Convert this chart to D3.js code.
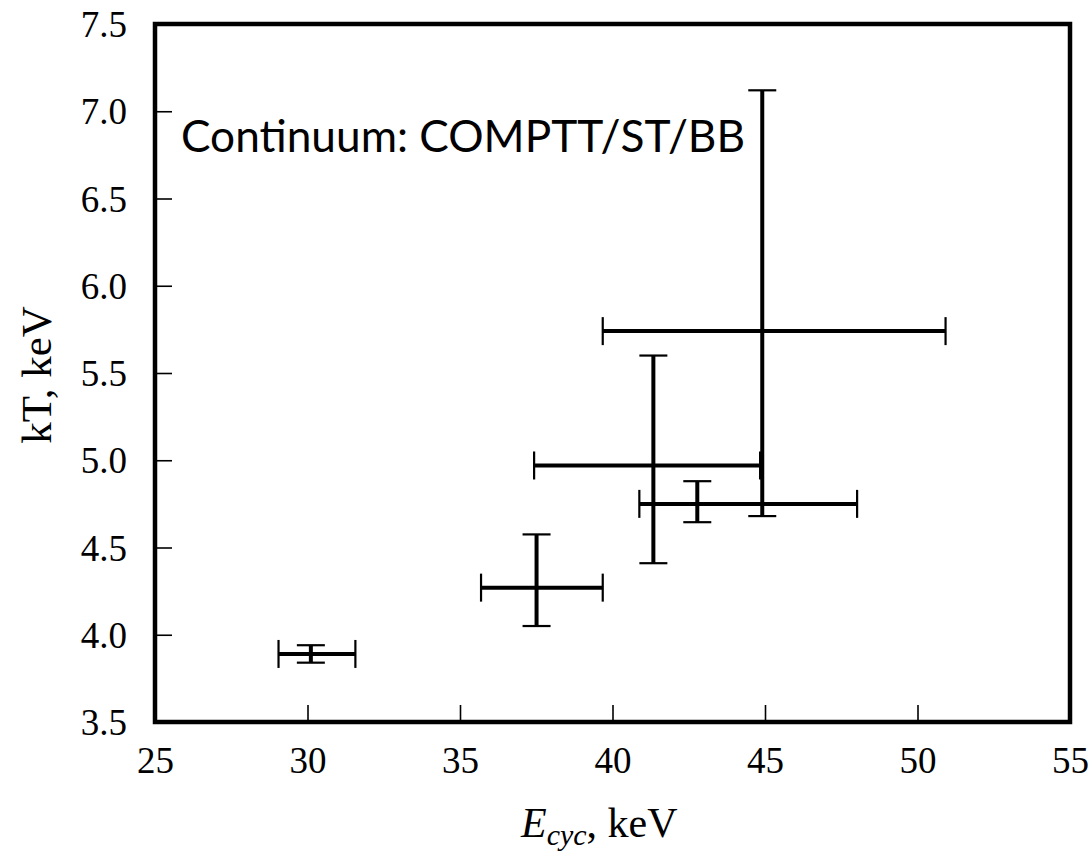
<!DOCTYPE html>
<html><head><meta charset="utf-8">
<script src="https://cdn.jsdelivr.net/npm/d3@7"></script>
<style>body{margin:0;background:#fff}</style>
</head><body>
<svg id="chart" width="1091" height="853"></svg>
<script>
// Data
const ecyc     = [30.11, 37.51, 41.34, 42.78, 44.91];
const ecycLo   = [29.05, 35.69, 37.43, 40.88, 39.68];
const ecycHi   = [31.57, 39.68, 44.84, 48.02, 50.92];
const kT       = [3.89, 4.27, 4.97, 4.75, 5.74];
const kTLo     = [3.84, 4.05, 4.41, 4.645, 4.68];
const kTHi     = [3.94, 4.575, 5.60, 4.88, 7.12];
const xTicks   = [25, 30, 35, 40, 45, 50, 55];
const yTicks   = [3.5, 4.0, 4.5, 5.0, 5.5, 6.0, 6.5, 7.0, 7.5];
const annotation = "Continuum: COMPTT/ST/BB";

const svg = d3.select("#chart");
const L = 155, R = 1070, T = 24, B = 722;
const x = d3.scaleLinear().domain([25, 55]).range([L, R]);
const y = d3.scaleLinear().domain([3.5, 7.5]).range([B, T]);

// ticks (inward) on left and bottom
const gx = svg.append("g").attr("transform", `translate(0,${B})`)
  .call(d3.axisBottom(x).tickValues(xTicks).tickSize(-17).tickPadding(25).tickFormat(d3.format("d")));
const gy = svg.append("g").attr("transform", `translate(${L},0)`)
  .call(d3.axisLeft(y).tickValues(yTicks).tickSize(-17).tickPadding(28).tickFormat(d3.format(".1f")));
[gx, gy].forEach(g => {
  g.select(".domain").remove();
  g.selectAll(".tick line").attr("stroke", "#000").attr("stroke-width", 1.6);
  g.selectAll(".tick text").attr("font-family", "'Liberation Serif', 'Times New Roman', serif")
    .attr("font-size", 37).attr("fill", "#000");
});
gx.selectAll(".tick text").attr("dy", "0.71em");
gy.selectAll(".tick text").attr("dy", "0.34em");
// hide ticks at frame edges
gx.selectAll(".tick line").filter(d => d === 25 || d === 55).remove();
gy.selectAll(".tick line").filter(d => d === 3.5 || d === 7.5).remove();

// frame
svg.append("rect").attr("x", L).attr("y", T).attr("width", R - L).attr("height", B - T)
  .attr("fill", "none").attr("stroke", "#000").attr("stroke-width", 4.5);

// error bars
const pts = ecyc.map((d, i) => ({x: d, xl: ecycLo[i], xh: ecycHi[i], y: kT[i], yl: kTLo[i], yh: kTHi[i]}));
const g = svg.append("g").attr("stroke", "#000");
const cap = 14;
pts.forEach(p => {
  g.append("line").attr("x1", x(p.xl)).attr("x2", x(p.xh)).attr("y1", y(p.y)).attr("y2", y(p.y)).attr("stroke-width", 4);
  g.append("line").attr("x1", x(p.x)).attr("x2", x(p.x)).attr("y1", y(p.yl)).attr("y2", y(p.yh)).attr("stroke-width", 4);
  [p.xl, p.xh].forEach(v => g.append("line").attr("x1", x(v)).attr("x2", x(v))
    .attr("y1", y(p.y) - cap).attr("y2", y(p.y) + cap).attr("stroke-width", 2.2));
  [p.yl, p.yh].forEach(v => g.append("line").attr("x1", x(p.x) - cap).attr("x2", x(p.x) + cap)
    .attr("y1", y(v)).attr("y2", y(v)).attr("stroke-width", 2.2));
});

// annotation
svg.append("text").attr("x", 181).attr("y", 152).attr("font-family", "Lato, 'Open Sans', sans-serif")
  .attr("font-size", 44).attr("textLength", 564).attr("lengthAdjust", "spacingAndGlyphs")
  .attr("fill", "#000").text(annotation);

// axis labels
const xl = svg.append("text").attr("x", 521).attr("y", 837).attr("text-anchor", "start")
  .attr("font-family", "'Liberation Serif', 'Times New Roman', serif").attr("font-size", 42).attr("fill", "#000");
xl.append("tspan").attr("font-style", "italic").text("E");
xl.append("tspan").attr("font-style", "italic").attr("font-size", 30).attr("dy", 8).text("cyc");
xl.append("tspan").attr("dy", -8).text(", keV");

svg.append("text").attr("transform", "translate(51,375) rotate(-90)").attr("text-anchor", "middle")
  .attr("font-family", "'Liberation Serif', 'Times New Roman', serif").attr("font-size", 43).attr("fill", "#000")
  .text("kT, keV");
</script>
</body></html>
